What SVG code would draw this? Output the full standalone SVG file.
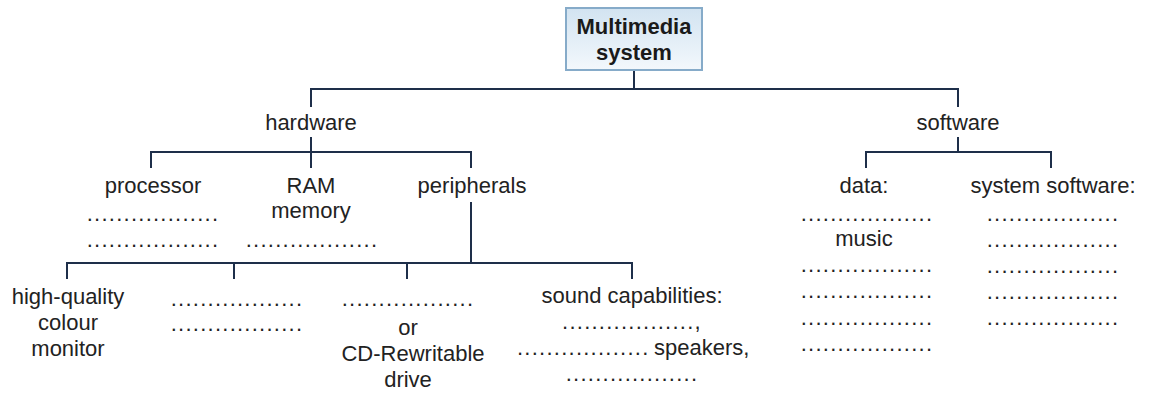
<svg xmlns="http://www.w3.org/2000/svg" width="1150" height="394" viewBox="0 0 1150 394">
<defs>
<linearGradient id="boxfill" x1="0" y1="0" x2="0" y2="1">
<stop offset="0" stop-color="#d2e3f1"/>
<stop offset="1" stop-color="#f3f8fc"/>
</linearGradient>
<style>
text{font-family:"Liberation Sans",Arial,sans-serif;font-size:22px;fill:#222;text-anchor:middle}
.b{font-weight:bold;fill:#1a1a1a}
.d{letter-spacing:1.25px}
.s{text-anchor:start}
.c{fill:none;stroke:#1e2f4a;stroke-width:2}
</style>
</defs>
<rect width="1150" height="394" fill="#ffffff"/>
<g id="connectors" class="c">
<path d="M634 70V89M311 107V89H958V107"/>
<path d="M311 137V168M151 168V152H471V168"/>
<path d="M471 202V263M67 279V263H632V279M234 263V279M407 263V279"/>
<path d="M958 137V152M866 168V152H1051V168"/>
</g>
<g id="root">
<rect x="566" y="8" width="136" height="62" fill="url(#boxfill)" stroke="#86abc9" stroke-width="2"/>
<text class="b"><tspan x="634" y="34">Multimedia</tspan><tspan x="634" y="60">system</tspan></text>
</g>
<g id="hardware"><text x="311" y="130">hardware</text></g>
<g id="software"><text x="958" y="130">software</text></g>
<g id="processor">
<text><tspan x="153" y="193">processor</tspan><tspan class="d" x="153" y="221">..................</tspan><tspan class="d" x="153" y="247">..................</tspan></text>
</g>
<g id="ram">
<text><tspan x="311" y="193">RAM</tspan><tspan x="311" y="218">memory</tspan><tspan class="d" x="312" y="247">..................</tspan></text>
</g>
<g id="peripherals"><text x="472" y="193">peripherals</text></g>
<g id="monitor">
<text><tspan x="68" y="304">high-quality</tspan><tspan x="68" y="330">colour</tspan><tspan x="68" y="356">monitor</tspan></text>
</g>
<g id="blank2">
<text class="d"><tspan x="237" y="306">..................</tspan><tspan x="237" y="331">..................</tspan></text>
</g>
<g id="drive">
<text><tspan class="d" x="408" y="306">..................</tspan><tspan x="408" y="335">or</tspan><tspan x="413" y="361">CD-Rewritable</tspan><tspan x="408" y="387">drive</tspan></text>
</g>
<g id="sound">
<text><tspan x="632" y="303">sound capabilities:</tspan><tspan class="d" x="632" y="329">..................,</tspan><tspan class="d s" x="517" y="355">..................</tspan><tspan class="s" x="654" y="355">speakers,</tspan><tspan class="d" x="632" y="381">..................</tspan></text>
</g>
<g id="data">
<text><tspan x="864" y="193">data:</tspan><tspan class="d" x="867" y="221">..................</tspan><tspan x="864" y="246">music</tspan><tspan class="d" x="867" y="272">..................</tspan><tspan class="d" x="867" y="298">..................</tspan><tspan class="d" x="867" y="325">..................</tspan><tspan class="d" x="867" y="351">..................</tspan></text>
</g>
<g id="system-software">
<text><tspan x="1053" y="193">system software:</tspan><tspan class="d" x="1053" y="221">..................</tspan><tspan class="d" x="1053" y="247">..................</tspan><tspan class="d" x="1053" y="273">..................</tspan><tspan class="d" x="1053" y="299">..................</tspan><tspan class="d" x="1053" y="325">..................</tspan></text>
</g>
</svg>
